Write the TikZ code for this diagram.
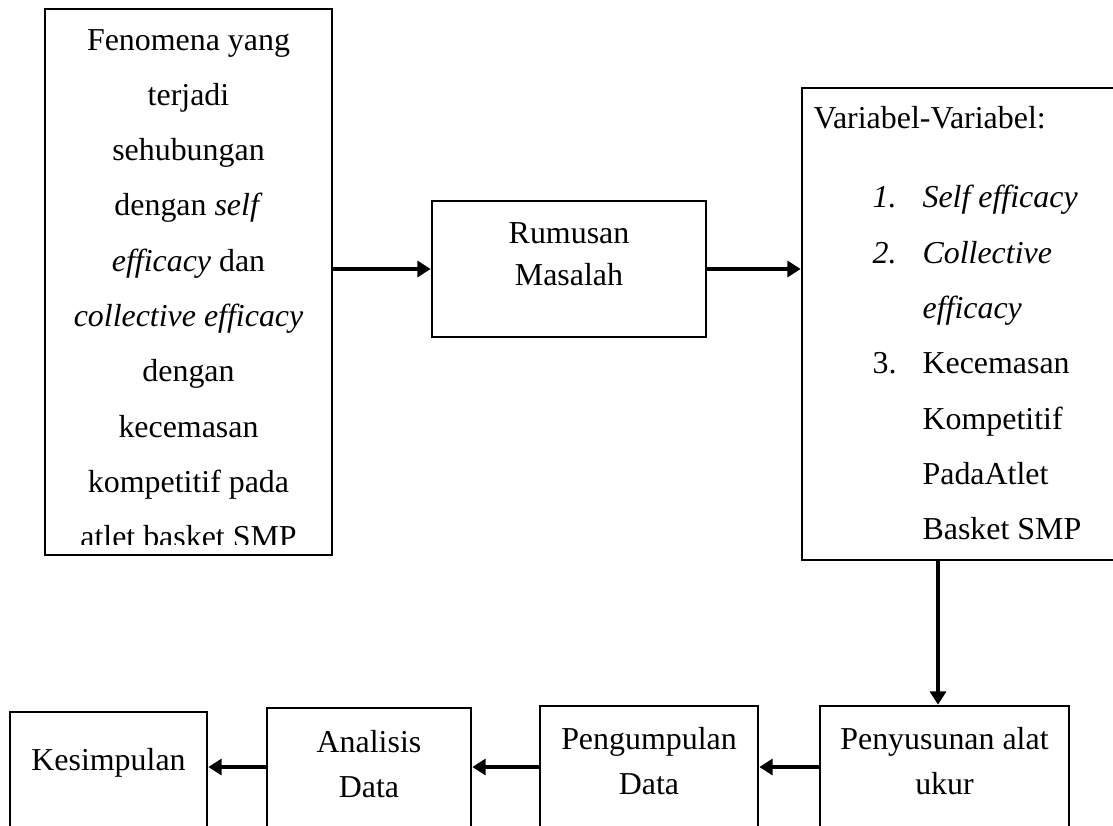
\documentclass[tikz,border=0pt]{standalone}
\usepackage{fontspec}
\setmainfont{Liberation Serif}
\usetikzlibrary{arrows.meta,fit}
\tikzset{
  box/.style={draw, line width=1pt, inner sep=0pt},
  txt/.style={inner sep=0pt, anchor=base, align=flush center, text width=#1},
  txt/.default=100pt,
  flow/.style={line width=1.5pt, -{Triangle[length=5pt,width=6pt]}},
}
\newcommand\varitem[2]{\hspace*{22.2pt}\makebox[18.8pt][l]{#1}#2}
\newcommand\varcont[1]{\hspace*{41pt}#1}
\begin{document}
\begin{tikzpicture}[x=0.376pt, y=-0.376pt, font=\fontsize{12pt}{20.8pt}\selectfont]
  \useasboundingbox (0,0) rectangle (1113,825);
  \clip (0,0) rectangle (1113,825);
  \node[box, fit={(45,9) (332,555)}] (fen) {};
  \node[box, fit={(432,201) (706,337)}] (rum) {};
  \node[box, fit={(802,88) (1130,560)}] (var) {};
  \node[box, fit={(820,706) (1069,850)}] (pen) {};
  \node[box, fit={(540,706) (758,850)}] (pgp) {};
  \node[box, fit={(267,708) (471,850)}] (ana) {};
  \node[box, fit={(10,712) (207,850)}] (kes) {};
  \begin{scope}
    \clip (45,9) rectangle (332,544);
    \node[txt=105pt] (fen-t) at (188.5,50) {Fenomena yang\\ terjadi\\ sehubungan\\
      dengan \textit{self}\\ \textit{efficacy} dan\\ \textit{collective efficacy}\\
      dengan\\ kecemasan\\ kompetitif pada\\ atlet basket SMP};
  \end{scope}
  \node[txt=115pt, align=flush left, anchor=base west] (var-t) at (813,128) {Variabel-Variabel:\\[9.2pt]
    \varitem{\textit{1.}}{\textit{Self efficacy}}\\
    \varitem{\textit{2.}}{\textit{Collective}}\\
    \varcont{\textit{efficacy}}\\
    \varitem{3.}{Kecemasan}\\
    \varcont{Kompetitif}\\
    \varcont{PadaAtlet}\\
    \varcont{Basket SMP}};
  \node[txt=90pt, font=\fontsize{12pt}{16pt}\selectfont] (rum-t) at (569,243) {Rumusan\\ Masalah};
  \node[txt=90pt, font=\fontsize{12pt}{17pt}\selectfont] (pen-t) at (944.5,749) {Penyusunan alat\\ ukur};
  \node[txt=90pt, font=\fontsize{12pt}{17pt}\selectfont] (pgp-t) at (649,749) {Pengumpulan\\ Data};
  \node[txt=90pt, font=\fontsize{12pt}{17pt}\selectfont] (ana-t) at (369,752) {Analisis\\ Data};
  \node[txt=90pt] (kes-t) at (108.5,770) {Kesimpulan};
  \coordinate (row) at (0,767);
  \coordinate (drop) at (938,0);
  \draw[flow] (rum.west -| fen.east) -- (rum.west);
  \draw[flow] (rum.east) -- (rum.east -| var.west);
  \draw[flow] (var.south -| drop) -- (pen.north -| drop);
  \draw[flow] (pen.west |- row) -- (pgp.east |- row);
  \draw[flow] (pgp.west |- row) -- (ana.east |- row);
  \draw[flow] (ana.west |- row) -- (kes.east |- row);
\end{tikzpicture}
\end{document}
